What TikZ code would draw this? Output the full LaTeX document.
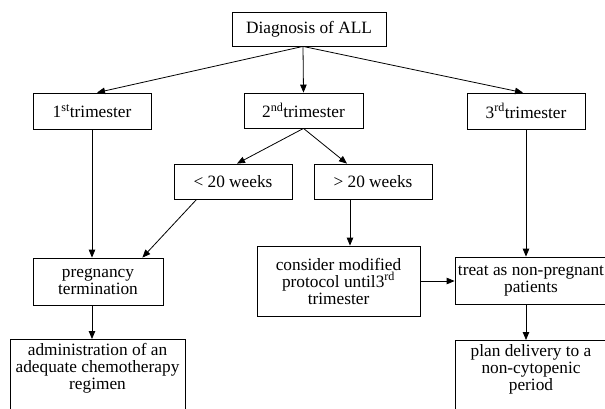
\documentclass[tikz,border=0pt]{standalone}
\usepackage{fontspec}
\setmainfont{Liberation Serif}
\newfontfamily\flowfont{Liberation Serif}
\usepackage{tikz}
\usetikzlibrary{arrows.meta}

\begin{document}
\begin{tikzpicture}[>={Triangle[length=8pt,width=6.5pt]},x=1pt,y=-1pt,line width=0.8pt,
	box/.style={draw,align=center,inner sep=0pt,font=\flowfont\fontsize{17.3}{17}\selectfont},
	topbox/.style={box,anchor=north,inner ysep=4pt}]
	\useasboundingbox (0,0) rectangle (605,408);
	\clip (0,0) rectangle (605,408);

	\node[box,minimum width=154pt,minimum height=34pt] (diag) at (309,29) {Diagnosis of ALL};
	\node[box,minimum width=118pt,minimum height=36pt] (t1) at (92,111) {1\textsuperscript{st}trimester};
	\node[box,minimum width=119pt,minimum height=35pt] (t2) at (303.5,110.5) {2\textsuperscript{nd}trimester};
	\node[box,minimum width=118pt,minimum height=36pt] (t3) at (526,111) {3\textsuperscript{rd}trimester};
	\node[box,minimum width=118pt,minimum height=35pt] (lt20) at (233,181.5) {< 20 weeks};
	\node[box,minimum width=118pt,minimum height=35pt] (gt20) at (373,181.5) {> 20 weeks};
	\node[box,minimum width=130pt,minimum height=47pt] (preg) at (98,281.5) {pregnancy\\termination};
	\node[box,minimum width=163pt,minimum height=70pt] (cons) at (338.5,281) {consider modified\\protocol until3\textsuperscript{rd}\\trimester};
	\node[box,minimum width=152pt,minimum height=47pt] (treat) at (531,280.5) {treat as non-pregnant\\patients};
	\node[topbox,minimum width=175pt] (admin) at (97.5,339) {administration of an\\adequate chemotherapy\\regimen\\\mbox{}};
	\node[topbox,minimum width=152pt] (plan) at (531,340) {plan delivery to a\\non-cytopenic\\period\\\mbox{}};

	\draw[->] ([xshift=-6pt]diag.south) -- ([xshift=5pt]t1.north);
	\draw[->] ([xshift=-6pt]diag.south) -- (t2.north);
	\draw[->] ([xshift=-6pt]diag.south) -- ([xshift=-3pt]t3.north);
	\draw[->] (t2.south) -- ([xshift=4pt]lt20.north);
	\draw[->] (t2.south) -- ([xshift=-26pt]gt20.north);
	\draw[->] (t1.south) -- (t1.south |- preg.north);
	\draw[->] ([xshift=23pt]lt20.south west) -- ([xshift=-21pt]preg.north east);
	\draw[->] ([xshift=-23pt]gt20.south) -- ([xshift=-23pt]gt20.south |- cons.north);
	\draw[->] (t3.south) -- (t3.south |- treat.north);
	\draw[->] (cons.east) -- (cons.east -| treat.west);
	\draw[->] (t1.south |- preg.south) -- (t1.south |- admin.north);
	\draw[->] (t3.south |- treat.south) -- (t3.south |- plan.north);

\end{tikzpicture}
\end{document}
